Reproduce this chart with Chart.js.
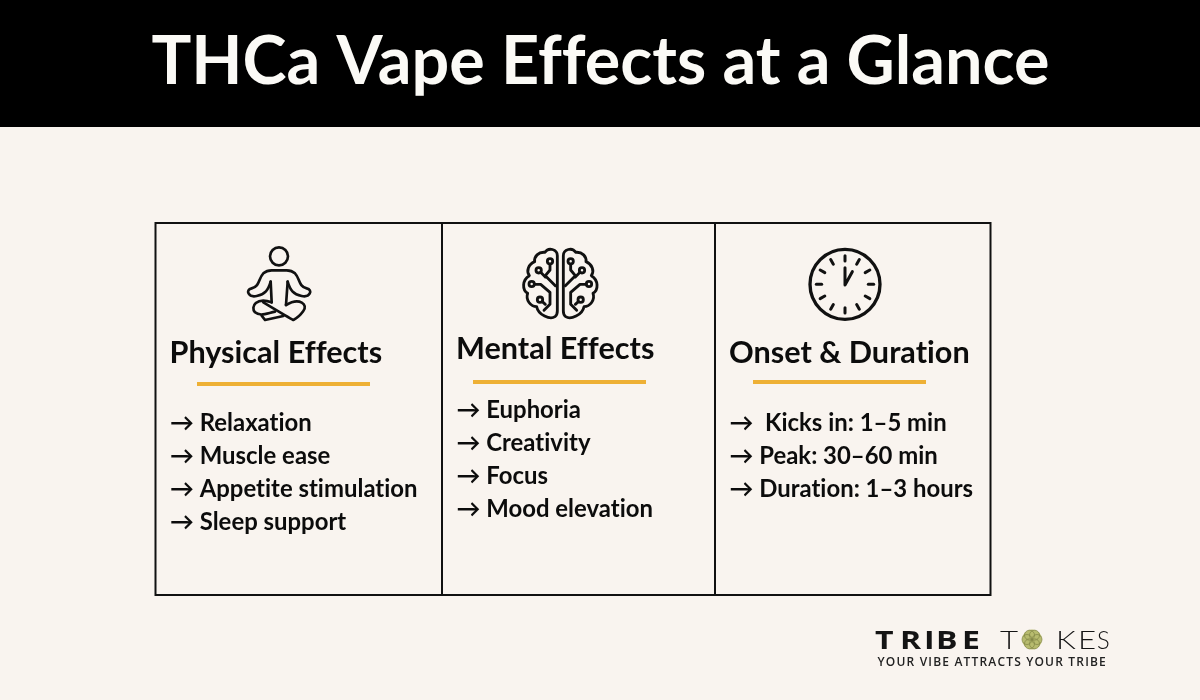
<!DOCTYPE html>
<html>
<head>
<meta charset="utf-8">
<title>THCa Vape Effects at a Glance</title>
<script src="https://cdn.jsdelivr.net/npm/chart.js@4"></script>
<style>
    html, body { margin: 0; padding: 0; background: #f9f4ef; }
    canvas { display: block; }
</style>
</head>
<body>
<canvas id="effectsChart" width="1200" height="700"></canvas>
<script>
const chartTitle = 'THCa Vape Effects at a Glance';
const columnTitles = ['Physical Effects', 'Mental Effects', 'Onset & Duration'];
const physicalEffects = ['→ Relaxation', '→ Muscle ease', '→ Appetite stimulation', '→ Sleep support'];
const mentalEffects = ['→ Euphoria', '→ Creativity', '→ Focus', '→ Mood elevation'];
const onsetDuration = ['→  Kicks in: 1–5 min', '→ Peak: 30–60 min', '→ Duration: 1–3 hours'];
const brandTagline = 'YOUR VIBE ATTRACTS YOUR TRIBE';

const INK = '#0c0c0c';
const GOLD = '#eeb035';

// layout of the three columns, in page pixels
const columns = [
    { items: physicalEffects, textX: 170, titleY: 363, ruleX: 197, ruleY: 384, listY: 431 },
    { items: mentalEffects, textX: 456.5, titleY: 359, ruleX: 473, ruleY: 382, listY: 418 },
    { items: onsetDuration, textX: 729.5, titleY: 363, ruleX: 753, ruleY: 382, listY: 431 }
];

function line(ctx, pts) {
    ctx.beginPath();
    pts.forEach((p, i) => i ? ctx.lineTo(p[0], p[1]) : ctx.moveTo(p[0], p[1]));
    ctx.stroke();
}

function dot(ctx, x, y, r) {
    ctx.beginPath();
    ctx.arc(x, y, r, 0, Math.PI * 2);
    ctx.stroke();
}

// one logo letter, stretched sideways to get the wide brand look
function wideLetter(ctx, ch, x, y, stretch) {
    ctx.save();
    ctx.translate(x, y);
    ctx.scale(stretch, 1);
    ctx.fillText(ch, 0, 0);
    ctx.restore();
}

// icons are traced at 3x, same as the zoomed crops
function drawPerson(ctx) {
    ctx.save();
    ctx.translate(150, 215);
    ctx.scale(1 / 3, 1 / 3);
    ctx.lineWidth = 8;
    dot(ctx, 387, 124, 27);
    ctx.beginPath();
    ctx.moveTo(362, 200);
    ctx.bezierCurveTo(355, 225, 345, 238, 320, 243);
    ctx.bezierCurveTo(295, 248, 285, 225, 305, 220);
    ctx.bezierCurveTo(330, 214, 325, 190, 340, 175);
    ctx.quadraticCurveTo(350, 166, 365, 166);
    ctx.lineTo(410, 166);
    ctx.quadraticCurveTo(425, 166, 435, 175);
    ctx.bezierCurveTo(450, 190, 445, 214, 470, 220);
    ctx.bezierCurveTo(490, 225, 480, 248, 455, 243);
    ctx.bezierCurveTo(430, 238, 420, 225, 413, 200);
    ctx.stroke();
    line(ctx, [[362, 200], [365, 262]]);
    line(ctx, [[413, 200], [408, 270]]);
    ctx.beginPath();
    ctx.moveTo(365, 262);
    ctx.bezierCurveTo(320, 245, 300, 275, 315, 292);
    ctx.bezierCurveTo(330, 305, 350, 295, 375, 290);
    ctx.stroke();
    ctx.beginPath();
    ctx.moveTo(408, 270);
    ctx.bezierCurveTo(450, 245, 475, 270, 460, 288);
    ctx.bezierCurveTo(450, 302, 440, 310, 430, 315);
    ctx.bezierCurveTo(420, 310, 370, 280, 340, 262);
    ctx.stroke();
    ctx.beginPath();
    ctx.moveTo(335, 302);
    ctx.lineTo(345, 315);
    ctx.lineTo(400, 303);
    ctx.stroke();
    ctx.restore();
}

function drawBrainHalf(ctx) {
    ctx.beginPath();
    ctx.moveTo(172, 62);
    ctx.bezierCurveTo(172, 42, 145, 36, 135, 52);
    ctx.bezierCurveTo(115, 50, 102, 65, 104, 80);
    ctx.bezierCurveTo(85, 88, 78, 108, 88, 122);
    ctx.bezierCurveTo(66, 135, 66, 165, 83, 175);
    ctx.bezierCurveTo(76, 195, 92, 215, 110, 215);
    ctx.bezierCurveTo(115, 240, 150, 255, 165, 245);
    ctx.quadraticCurveTo(172, 240, 172, 228);
    ctx.closePath();
    ctx.stroke();

    line(ctx, [[150, 88], [150, 105], [136, 122], [166, 152]]);
    dot(ctx, 150, 79, 8);
    line(ctx, [[122, 112], [136, 126]]);
    dot(ctx, 116, 106, 8);
    line(ctx, [[104, 148], [122, 148], [150, 172], [150, 208], [132, 226]]);
    dot(ctx, 95, 147, 8);
    line(ctx, [[127, 200], [136, 208]]);
    dot(ctx, 120, 194, 8);
}

function drawBrain(ctx) {
    ctx.save();
    ctx.translate(500, 235);
    ctx.scale(1 / 3, 1 / 3);
    ctx.lineWidth = 8.5;
    drawBrainHalf(ctx);
    // right side is the mirror of the left
    ctx.translate(362, 0);
    ctx.scale(-1, 1);
    drawBrainHalf(ctx);
    ctx.restore();
}

function drawClock(ctx) {
    ctx.save();
    ctx.translate(790, 235);
    ctx.scale(1 / 3, 1 / 3);
    ctx.lineWidth = 10;
    dot(ctx, 165, 148, 105);
    ctx.lineWidth = 9;
    for (let i = 0; i < 12; i++) {
        const a = i * Math.PI / 6;
        const r1 = 70;
        const r2 = 86;
        line(ctx, [
            [165 + Math.sin(a) * r1, 148 - Math.cos(a) * r1],
            [165 + Math.sin(a) * r2, 148 - Math.cos(a) * r2]
        ]);
    }
    line(ctx, [[165, 98], [165, 150], [187, 110]]);
    ctx.restore();
}

function drawLogo(ctx) {
    ctx.fillStyle = '#141414';
    ctx.textAlign = 'left';
    ctx.textBaseline = 'alphabetic';
    ctx.font = 'bold 25px "Open Sans"';
    [['T', 875], ['R', 900], ['I', 924], ['B', 936], ['E', 962]].forEach(l => wideLetter(ctx, l[0], l[1], 649, 1.28));
    ctx.font = '300 25px Lato';
    [['T', 1000], ['K', 1056], ['E', 1078], ['S', 1097]].forEach(l => wideLetter(ctx, l[0], l[1], 649, l[0] === 'S' ? 0.95 : 1.25));

    // flower emblem standing in for the O
    ctx.save();
    ctx.fillStyle = '#b7bb6e';
    ctx.beginPath();
    ctx.arc(1032, 639.5, 10, 0, Math.PI * 2);
    ctx.fill();
    ctx.strokeStyle = '#7f8445';
    ctx.lineWidth = 0.7;
    for (let i = 0; i < 6; i++) {
        const a = i * Math.PI / 3;
        dot(ctx, 1032 + Math.cos(a) * 5, 639.5 + Math.sin(a) * 5, 5);
    }
    ctx.restore();

    ctx.font = '600 12px "Open Sans"';
    ctx.letterSpacing = '1.18px';
    ctx.fillStyle = '#222';
    ctx.fillText(brandTagline, 877.5, 666);
    ctx.letterSpacing = '0px';
}

const infographicPlugin = {
    id: 'infographic',
    beforeDraw(chart) {
        const ctx = chart.ctx;
        ctx.save();
        ctx.fillStyle = '#f9f4ef';
        ctx.fillRect(0, 0, 1200, 700);
        ctx.fillStyle = '#000';
        ctx.fillRect(0, 0, 1200, 127);

        // a tiny spacing keeps the ff and ti ligatures from forming
        ctx.letterSpacing = '0.01px';
        ctx.fillStyle = '#fbfaf6';
        ctx.textAlign = 'center';
        ctx.textBaseline = 'alphabetic';
        ctx.font = 'bold 66.5px Lato';
        ctx.fillText(chartTitle, 600.5, 84);

        // table frame and dividers
        ctx.strokeStyle = '#111';
        ctx.lineWidth = 2;
        ctx.strokeRect(155.5, 223, 835, 372);
        line(ctx, [[442, 223], [442, 595]]);
        line(ctx, [[715, 223], [715, 595]]);

        ctx.textAlign = 'left';
        columns.forEach((col, i) => {
            ctx.fillStyle = INK;
            ctx.font = 'bold 30.6px Lato';
            ctx.fillText(columnTitles[i], col.textX - 0.5, col.titleY);
            ctx.fillStyle = GOLD;
            ctx.fillRect(col.ruleX, col.ruleY - 2, 173, 4);
            ctx.fillStyle = INK;
            ctx.font = 'bold 23.9px Lato';
            col.items.forEach((item, k) => ctx.fillText(item, col.textX, col.listY + k * 33));
        });
        ctx.letterSpacing = '0px';

        ctx.strokeStyle = '#111';
        ctx.lineCap = 'round';
        ctx.lineJoin = 'round';
        drawPerson(ctx);
        drawBrain(ctx);
        drawClock(ctx);
        ctx.lineCap = 'butt';
        drawLogo(ctx);
        ctx.restore();
    }
};

new Chart(document.getElementById('effectsChart').getContext('2d'), {
    type: 'scatter',
    data: { datasets: [{ data: [] }] },
    options: {
        responsive: false,
        animation: false,
        layout: { padding: 0 },
        plugins: { legend: { display: false }, tooltip: { enabled: false } },
        scales: {
            x: { display: false, min: 0, max: 1200 },
            y: { display: false, min: 0, max: 700, reverse: true }
        }
    },
    plugins: [infographicPlugin]
});
</script>
</body>
</html>
